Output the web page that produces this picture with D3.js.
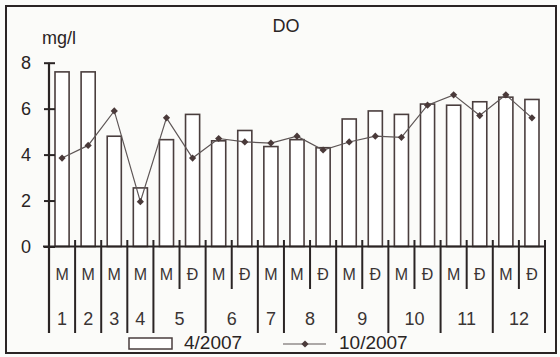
<!doctype html>
<html lang="vi">
<head>
<meta charset="utf-8">
<title>DO</title>
<script src="https://d3js.org/d3.v7.min.js"></script>
<style>
  body { margin: 0; background: #fff; }
  svg text { font-family: "Liberation Sans", Arial, sans-serif; fill: #2a2424; }
</style>
</head>
<body>
<div id="chart"></div>
<script>
// station number and sampling position (M / Đ) for each column
var sites = [1, 2, 3, 4, 5, 5, 6, 6, 7, 8, 8, 9, 9, 10, 10, 11, 11, 12, 12];
var parts = ["M", "M", "M", "M", "M", "Đ", "M", "Đ", "M", "M", "Đ", "M", "Đ", "M", "Đ", "M", "Đ", "M", "Đ"];
var apr2007 = [7.6, 7.6, 4.8, 2.55, 4.65, 5.75, 4.6, 5.05, 4.35, 4.65, 4.3, 5.55, 5.9, 5.75, 6.2, 6.15, 6.3, 6.5, 6.4];
var oct2007 = [3.85, 4.4, 5.9, 1.95, 5.6, 3.85, 4.7, 4.55, 4.5, 4.8, 4.2, 4.55, 4.8, 4.75, 6.15, 6.6, 5.7, 6.6, 5.6];
var yTicks = [0, 2, 4, 6, 8];

var w = 560, h = 357;
var ink = "#2a2424", barInk = "#4a3e3e";

var svg = d3.select("#chart").append("svg")
  .attr("width", w).attr("height", h);

svg.append("rect").attr("width", w).attr("height", h).attr("fill", "#fbfbf9");
svg.append("rect")
  .attr("x", 6).attr("y", 6).attr("width", 550).attr("height", 347)
  .attr("fill", "none").attr("stroke", ink).attr("stroke-width", 2);

var x = d3.scaleBand()
  .domain(d3.range(sites.length))
  .range([49, 545])
  .paddingInner(0.46).paddingOuter(0.23);
var step = x.step();
var x0 = 49;
var y = d3.scaleLinear().domain([0, 8]).range([246.5, 62.7]);

// diamond = square turned 45deg
var diamond = d3.symbol().type(d3.symbolSquare).size(26);

// title + unit
svg.append("text").attr("x", 286).attr("y", 32).attr("text-anchor", "middle")
  .style("font-size", "18px").text("DO");
svg.append("text").attr("x", 42).attr("y", 44)
  .style("font-size", "18px").text("mg/l");

// bars
svg.selectAll("rect.bar").data(apr2007).enter().append("rect")
  .attr("class", "bar")
  .attr("x", function(d, i) { return x(i); })
  .attr("y", function(d) { return y(d); })
  .attr("width", x.bandwidth())
  .attr("height", function(d) { return y(0) - y(d); })
  .attr("fill", "#fff").attr("stroke", barInk).attr("stroke-width", 1.6);

// line series
var line = d3.line()
  .x(function(d, i) { return x(i) + x.bandwidth() / 2; })
  .y(function(d) { return y(d); });
svg.append("path").datum(oct2007).attr("d", line)
  .attr("fill", "none").attr("stroke", "#5e5656").attr("stroke-width", 1.2);
svg.selectAll("path.pt").data(oct2007).enter().append("path")
  .attr("class", "pt")
  .attr("d", diamond)
  .attr("transform", function(d, i) { return "translate(" + (x(i) + x.bandwidth() / 2) + "," + y(d) + ") rotate(45)"; })
  .attr("fill", "#4a3a3a");

// y axis
var yAxis = svg.append("g").attr("transform", "translate(" + x0 + ",0)")
  .call(d3.axisLeft(y).tickValues(yTicks).tickSize(5).tickPadding(13));
yAxis.select(".domain").remove();
yAxis.selectAll(".tick line").attr("x2", 6).attr("x1", -5)
  .attr("stroke", ink).attr("stroke-width", 2);
yAxis.selectAll(".tick text").style("font-size", "18px")
  .style("font-family", "Liberation Sans, Arial, sans-serif").attr("fill", ink);
svg.append("line").attr("x1", x0).attr("x2", x0).attr("y1", y(8)).attr("y2", 333)
  .attr("stroke", ink).attr("stroke-width", 2.2);

// x axis baseline
svg.append("line").attr("x1", 43).attr("x2", 546).attr("y1", y(0)).attr("y2", y(0))
  .attr("stroke", ink).attr("stroke-width", 2);

// category separators: long between stations, short between M and Đ
for (var i = 1; i <= sites.length; i++) {
  var bx = x0 + i * step;
  var longLine = (i === sites.length) || sites[i] !== sites[i - 1];
  svg.append("line").attr("x1", bx).attr("x2", bx)
    .attr("y1", 240).attr("y2", longLine ? 333 : 289)
    .attr("stroke", ink).attr("stroke-width", 2);
}

// M / Đ labels
svg.selectAll("text.part").data(parts).enter().append("text")
  .attr("class", "part")
  .attr("x", function(d, i) { return x(i) + x.bandwidth() / 2; })
  .attr("y", 280).attr("text-anchor", "middle")
  .style("font-size", "16px").style("fill", "#3a3434").text(function(d) { return d; });

// station labels centred under their columns
var groups = d3.groups(d3.range(sites.length), function(i) { return sites[i]; });
svg.selectAll("text.site").data(groups).enter().append("text")
  .attr("class", "site")
  .attr("x", function(g) {
    var idx = g[1];
    return x0 + (idx[0] + idx[idx.length - 1] + 1) / 2 * step;
  })
  .attr("y", 325).attr("text-anchor", "middle")
  .style("font-size", "18px").style("fill", "#3a3434").text(function(g) { return g[0]; });

// legend
svg.append("rect").attr("x", 129).attr("y", 338).attr("width", 43).attr("height", 11)
  .attr("fill", "#fff").attr("stroke", barInk).attr("stroke-width", 1.5);
svg.append("text").attr("x", 184).attr("y", 349).style("font-size", "19px").text("4/2007");
svg.append("line").attr("x1", 283).attr("x2", 326).attr("y1", 344).attr("y2", 344)
  .attr("stroke", "#5e5656").attr("stroke-width", 1.2);
svg.append("path").attr("d", diamond)
  .attr("transform", "translate(305,344) rotate(45)").attr("fill", "#4a3a3a");
svg.append("text").attr("x", 339).attr("y", 349).style("font-size", "19px").text("10/2007");
</script>
</body>
</html>
